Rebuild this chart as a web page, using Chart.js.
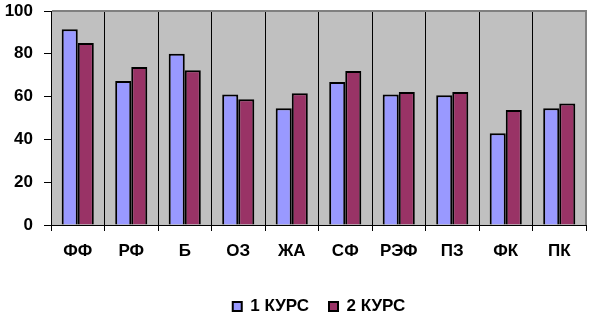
<!DOCTYPE html>
<html>
<head>
<meta charset="utf-8">
<script src="https://cdn.jsdelivr.net/npm/chart.js@4"></script>
<style>
html, body { margin: 0; padding: 0; background: #ffffff; }
#wrap { width: 591px; height: 325px; }
</style>
</head>
<body>
<div id="wrap"><canvas id="courseChart" width="591" height="325"></canvas></div>
<script>
// Faculties
const labels = ["ФФ", "РФ", "Б", "ОЗ", "ЖА", "СФ", "РЭФ", "ПЗ", "ФК", "ПК"];

// 1 course
const course1 = [91.5, 67.3, 80, 61, 54.6, 66.8, 61, 60.6, 42.9, 54.6];

// 2 course
const course2 = [85, 73.8, 72.3, 58.8, 61.6, 72, 62.1, 62.1, 53.7, 56.8];

const yTicks = [0, 20, 40, 60, 80, 100];

// grey plot area with grey top / right edge, legend nudged right
const plotArea = {
    id: "plotArea",
    afterLayout(chart) {
        chart.legend.left += 26;
        chart.legend.right += 26;
    },
    beforeDraw(chart) {
        const a = chart.chartArea;
        const ctx = chart.ctx;
        ctx.save();
        ctx.fillStyle = "#C0C0C0";
        ctx.fillRect(a.left, a.top, a.right - a.left, a.bottom - a.top);
        ctx.restore();
    },
    afterDatasetsDraw(chart) {
        const a = chart.chartArea;
        const ctx = chart.ctx;
        ctx.save();
        ctx.strokeStyle = "#808080";
        ctx.lineWidth = 2;
        ctx.beginPath();
        ctx.moveTo(a.left + 1, a.top);
        ctx.lineTo(a.right, a.top);
        ctx.lineTo(a.right, a.bottom);
        ctx.stroke();
        ctx.restore();
    }
};

new Chart(document.getElementById("courseChart"), {
    type: "bar",
    data: {
        labels: labels,
        datasets: [{
            label: "1 КУРС",
            data: course1,
            backgroundColor: "#9999FF",
            borderColor: "#000000",
            borderWidth: 2
        }, {
            label: "2 КУРС",
            data: course2,
            backgroundColor: "#993366",
            borderColor: "#000000",
            borderWidth: 2
        }]
    },
    options: {
        responsive: false,
        animation: false,
        datasets: {
            bar: {
                categoryPercentage: 0.6,
                barPercentage: 1.0
            }
        },
        layout: {
            padding: { top: 11, right: 5, left: 0, bottom: 0 }
        },
        plugins: {
            legend: {
                position: "bottom",
                labels: {
                    color: "#000000",
                    font: { family: "Liberation Sans", size: 17, weight: "bold" },
                    boxWidth: 9,
                    boxHeight: 9,
                    padding: 20
                }
            },
            tooltip: { enabled: false }
        },
        scales: {
            x: {
                grid: {
                    color: "#000000",
                    lineWidth: 1,
                    tickLength: 6
                },
                border: { color: "#000000", width: 1 },
                ticks: {
                    color: "#000000",
                    font: { family: "Liberation Sans", size: 17, weight: "bold" },
                    padding: 10
                },
                afterFit(scale) {
                    scale.height = 53;
                }
            },
            y: {
                min: 0,
                max: 100,
                afterBuildTicks(scale) {
                    scale.ticks = yTicks.map(v => ({ value: v }));
                },
                grid: {
                    drawOnChartArea: false,
                    color: "#000000",
                    tickLength: 7
                },
                border: { color: "#000000", width: 1 },
                ticks: {
                    color: "#000000",
                    font: { family: "Liberation Sans", size: 17, weight: "bold" },
                    padding: 11
                },
                afterFit(scale) {
                    scale.width = 51;
                    scale.paddingTop = 0;
                    scale.paddingBottom = 0;
                }
            }
        }
    },
    plugins: [plotArea]
});
</script>
</body>
</html>
